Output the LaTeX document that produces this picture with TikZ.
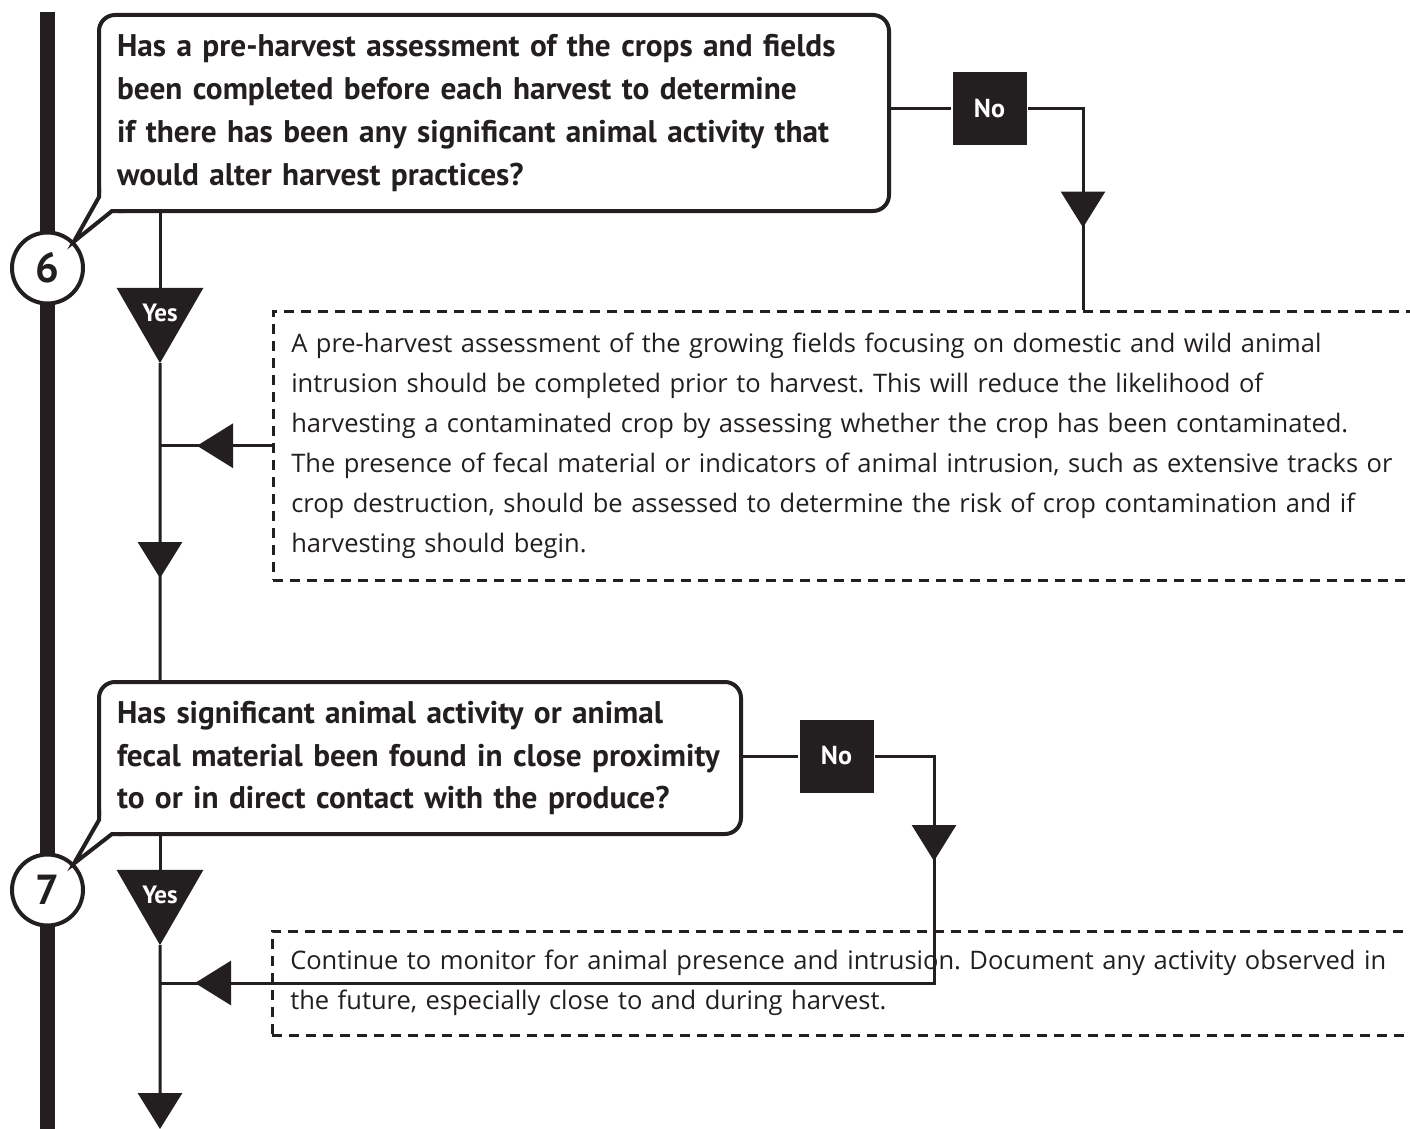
\documentclass[tikz,border=0pt]{standalone}
\usepackage{fontspec}
\setmainfont{Open Sans}
\newfontfamily\headfont{PT Sans}
\usetikzlibrary{arrows.meta,shapes.geometric,decorations.markings,calc}
\definecolor{ink}{RGB}{35,31,32}
\tikzset{midtip/.style={postaction={decorate,decoration={markings,
  mark=at position #1 with {\arrow{Triangle[length=36pt,width=44pt]}}}}}}
\frenchspacing

\begin{document}
\begin{tikzpicture}[x=1pt,y=-1pt,line width=3pt,draw=ink]
  \tikzstyle{question}=[draw=ink,line width=4pt,rounded corners=16pt,fill=white,align=left,inner xsep=18pt,inner ysep=0pt,text=ink,font=\headfont\fontsize{31.3}{42.7}\selectfont\bfseries]
  \tikzstyle{note}=[draw=ink,line width=2.5pt,dash pattern=on 10pt off 7pt,anchor=north west,align=left,inner xsep=18pt,inner ysep=0pt,text=ink,font=\fontsize{25.5}{40}\selectfont]
  \tikzstyle{answer}=[fill=ink,text=white,minimum width=74pt,minimum height=73pt,inner sep=0pt,font=\headfont\fontsize{26}{30}\selectfont\bfseries]
  \tikzstyle{yes}=[regular polygon,regular polygon sides=3,shape border rotate=180,fill=ink,text=white,minimum size=100pt,inner sep=0pt,outer sep=0pt,font=\headfont\fontsize{25}{28}\selectfont\bfseries]
  \tikzstyle{stepnum}=[circle,draw=ink,line width=4pt,fill=white,minimum size=71pt,inner sep=0pt,text=ink,font=\headfont\fontsize{42}{44}\selectfont\bfseries]
  \clip (0,0) rectangle (1410,1129);
  % time line
  \fill[ink] (40,12) rectangle (55,1129);
  \node[stepnum] (c6) at (47.5,268) {6};
  \node[stepnum] (c7) at (47.5,890) {7};
  % questions
  \node[question,text width=754pt,minimum height=196pt] (q6) at (494,113)
    {Has a pre-harvest assessment of the crops and fields\\
     been completed before each harvest to determine\\
     if there has been any significant animal activity that\\
     would alter harvest practices?};
  \node[question,text width=606pt,minimum height=152pt] (q7) at (420,758)
    {Has significant animal activity or animal\\
     fecal material been found in close proximity\\
     to or in direct contact with the produce?};
  % tails
  \fill[white] ($(q6.south west)+(-1,-20)$) rectangle ($(q6.south west)+(21,1)$);
  \draw[line width=4pt,line join=miter] ($(q6.south west)+(2,-26)$) -- ($(q6.south west)+(2,-16)$)
    -- (c6.45) -- ($(q6.south west)+(15,-2)$) -- ($(q6.south west)+(27,-2)$);
  \fill[white] ($(q7.south west)+(-1,-20)$) rectangle ($(q7.south west)+(21,1)$);
  \draw[line width=4pt,line join=miter] ($(q7.south west)+(2,-26)$) -- ($(q7.south west)+(2,-16)$)
    -- (c7.45) -- ($(q7.south west)+(15,-2)$) -- ($(q7.south west)+(27,-2)$);
  % answers
  \node[answer] (no6) at (989.5,108.5) {No};
  \node[answer] (no7) at (836.5,756) {No};
  \node[yes] (yes6) at (160,313) {Yes};
  \node[yes] (yes7) at (160,895) {Yes};
  % notes
  \node[note,text width=1200pt,minimum height=269pt] (d6) at (272,310)
    {A pre-harvest assessment of the growing fields focusing on domestic and wild animal\\
     intrusion should be completed prior to harvest. This will reduce the likelihood of\\
     harvesting a contaminated crop by assessing whether the crop has been contaminated.\\
     The presence of fecal material or indicators of animal intrusion, such as extensive tracks or\\
     crop destruction, should be assessed to determine the risk of crop contamination and if\\
     harvesting should begin.};
  \node[note,text width=1200pt,minimum height=104pt] (d7) at (271,930)
    {Continue to monitor for animal presence and intrusion. Document any activity observed in\\
     the future, especially close to and during harvest.};
  % connectors
  \coordinate (in6) at (1083,310);
  \coordinate (in7) at (934,983);
  \coordinate (out7) at (160,1129);
  \draw (q6.east |- no6) -- (no6.west);
  \draw[midtip=174pt] (no6.east) -| (in6);
  \draw (q6.south -| yes6) -- (yes6.90);
  \draw[midtip=215pt] (yes6.270) -- (q7.north -| yes6);
  \draw[midtip=75pt] (d6.west) -- (d6.west -| yes6);
  \draw (q7.east |- no7) -- (no7.west);
  \draw[midtip=164pt,midtip=1025pt] (no7.east) -| (in7) -- (in7 -| yes7);
  \draw (q7.south -| yes7) -- (yes7.90);
  \draw[-{Triangle[length=36pt,width=44pt]}] (yes7.270) -- (out7);
\end{tikzpicture}
\end{document}
